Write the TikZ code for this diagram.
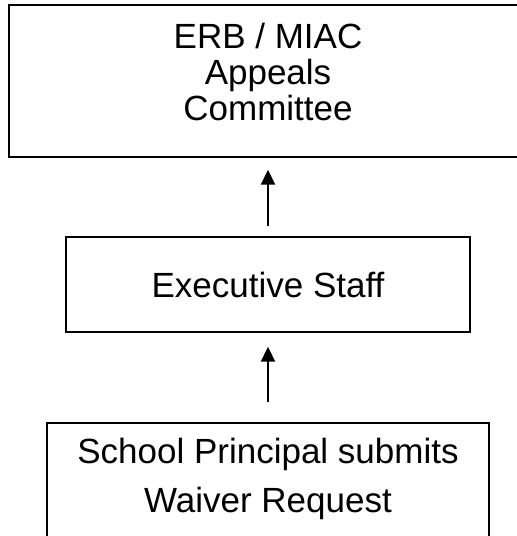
\documentclass[tikz,border=0pt]{standalone}
\usepackage{fontspec}
\setmainfont{Liberation Sans}
\usetikzlibrary{arrows.meta,positioning}
\newcommand{\boxfont}[1]{\fontsize{35}{#1}\selectfont}

\begin{document}
\begin{tikzpicture}[x=1pt,y=-1pt,
	box/.style={draw, line width=1.4pt, inner sep=0pt},
	boxtext/.style={align=center, inner sep=0pt},
	up/.style={-{Triangle[length=15pt,width=14pt]}, line width=2pt}]
	\useasboundingbox (0,0) rectangle (517,536);

	\node[box, minimum width=518pt, minimum height=152pt] (erb) at (268,81) {};
	\node[boxtext, font=\boxfont{36}] (erbtext) at (268,71.5) {ERB / MIAC\\Appeals\\Committee};

	\node[box, minimum width=404pt, minimum height=95pt, font=\boxfont{36}] (staff) at (268,284.5) {Executive Staff};

	\node[box, minimum width=442pt, minimum height=150pt] (school) at (268,498) {};
	\node[boxtext, font=\boxfont{49}] (schooltext) at (268,478.7) {School Principal submits\\Waiver Request};

	\draw[up, shorten <=10pt, shorten >=12pt] (staff.north) -- (erb.south);
	\draw[up, shorten <=20pt, shorten >=14pt] (school.north) -- (staff.south);

\end{tikzpicture}
\end{document}
